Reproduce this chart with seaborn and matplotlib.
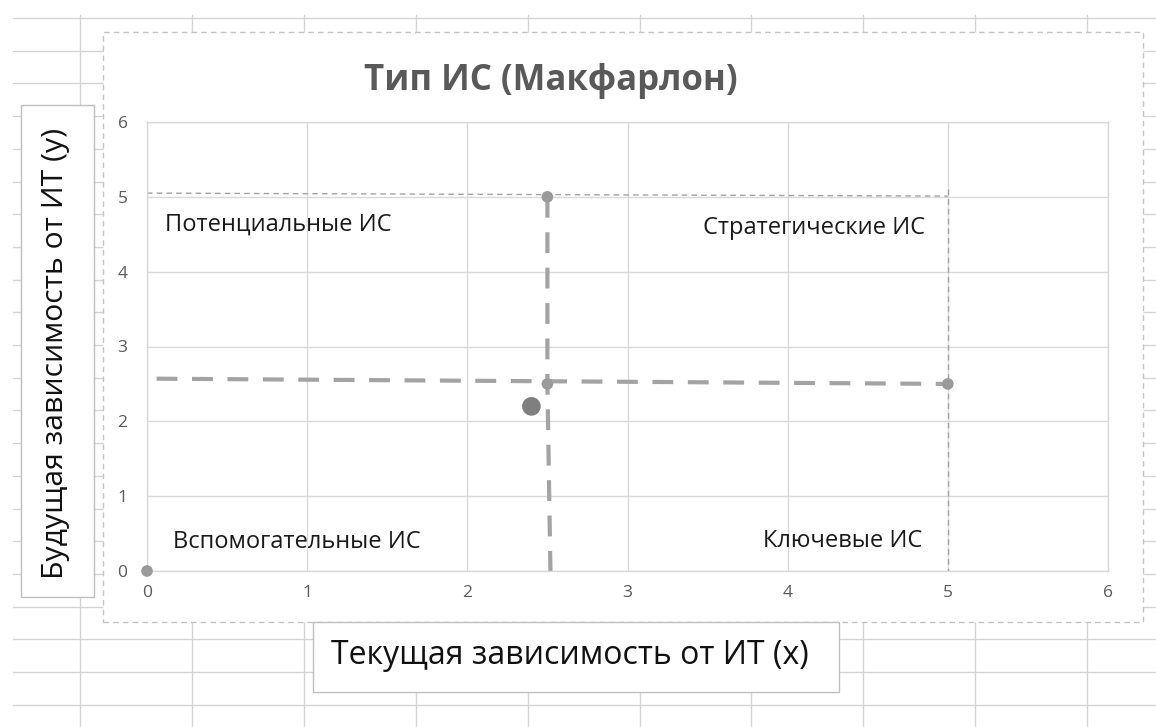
import matplotlib
matplotlib.use("Agg")
import matplotlib.pyplot as plt
from matplotlib.patches import Rectangle
from matplotlib.lines import Line2D
import seaborn as sns
import pandas as pd

W, H = 1156, 727

# данные (оценены по картинке)
title = "Тип ИС (Макфарлон)"
xlabel = "Текущая зависимость от ИТ (x)"
ylabel = "Будущая зависимость от ИТ (y)"
ticks = [0, 1, 2, 3, 4, 5, 6]

is_x = [2.4]          # оцениваемая ИС
is_y = [2.2]
origin_x = [0.0]
origin_y = [0.0]
vert_x = [2.5, 2.5, 2.52]     # вертикальная граница (пунктир)
vert_y = [5.0, 2.5, -0.15]
horiz_x = [0.06, 5.0]         # горизонтальная граница (пунктир)
horiz_y = [2.57, 2.5]
top_x = [0.0, 5.0]            # тонкие линии рамки
top_y = [5.05, 5.01]
right_x = [5.0, 5.0]
right_y = [5.1, 0.0]

quad_names = ["Потенциальные ИС", "Стратегические ИС", "Вспомогательные ИС", "Ключевые ИС"]
quad_x = [0.11, 4.86, 0.16, 4.84]
quad_y = [4.63, 4.59, 0.39, 0.40]
quad_ha = ["left", "right", "left", "right"]

sns.set_theme(style="whitegrid")
plt.rcParams['font.family'] = ['Open Sans', 'Noto Sans', 'DejaVu Sans']

fig = plt.figure(figsize=(W / 100, H / 100), dpi=100)
fig.patch.set_facecolor("white")


def fx(x):
    return x / W


def fy(y):
    return 1 - y / H


# сетка листа Excel на фоне
for k in range(22):
    y = 18 + 32.7 * k
    fig.add_artist(Line2D([fx(13), 1], [fy(y), fy(y)], color="#d4d4d4", lw=1, zorder=-3))
for k in range(10):
    x = 80 + 111.9 * k
    fig.add_artist(Line2D([fx(x), fx(x)], [fy(15), 0], color="#d4d4d4", lw=1, zorder=-3))

# область диаграммы
fig.add_artist(Rectangle((fx(103), fy(622)), fx(1143 - 103), (622 - 32) / H,
                         facecolor="white", edgecolor="#c4c4c4", lw=1,
                         linestyle=(0, (4, 3)), zorder=-2))

ax = fig.add_axes([fx(147), fy(571), fx(1108 - 147), (571 - 122) / H])
ax.set_zorder(0)
ax.set_facecolor("white")

grey = "#a3a3a3"
sns.lineplot(x=top_x, y=top_y, ax=ax, color=grey, lw=1, linestyle=(0, (4, 3)), sort=False, estimator=None)
sns.lineplot(x=right_x, y=right_y, ax=ax, color=grey, lw=1, linestyle=(0, (4, 3)), sort=False, estimator=None)
sns.lineplot(x=horiz_x, y=horiz_y, ax=ax, color=grey, lw=3, linestyle=(0, (5, 3.5)),
             sort=False, estimator=None)
sns.lineplot(x=vert_x, y=vert_y, ax=ax, color=grey, lw=3, linestyle=(0, (5, 3.5)),
             sort=False, estimator=None)
for ln in ax.lines:
    ln.set_clip_on(False)

pts = pd.DataFrame({"x": [vert_x[0], vert_x[1], horiz_x[1]] + origin_x,
                    "y": [vert_y[0], vert_y[1], horiz_y[1]] + origin_y})
sns.scatterplot(data=pts, x="x", y="y", ax=ax, color="#9a9a9a", s=70, edgecolor="none",
                clip_on=False, zorder=4)
sns.scatterplot(x=is_x, y=is_y, ax=ax, color="#7f7f7f", s=180, edgecolor="none",
                clip_on=False, zorder=5)

for name, x, y, ha in zip(quad_names, quad_x, quad_y, quad_ha):
    ax.text(x, y, name, ha=ha, va="center", fontsize=17, color="#1a1a1a")

ax.set_xlim(0, 6)
ax.set_ylim(0, 6)
ax.set_xticks(ticks)
ax.set_yticks(ticks)
ax.grid(True, color="#d9d9d9", lw=1)
for s in ax.spines.values():
    s.set_visible(True)
    s.set_color("#d9d9d9")
    s.set_linewidth(1)
ax.tick_params(axis="both", length=0, labelsize=12.5, labelcolor="#595959")
ax.tick_params(axis="y", pad=14)
ax.tick_params(axis="x", pad=10)
ax.set_xlabel("")
ax.set_ylabel("")

fig.text(fx(551), fy(90), title, ha="center", va="baseline", fontsize=25,
         fontweight="bold", color="#595959")

# подписи осей в рамках
fig.add_artist(Rectangle((fx(313), fy(692)), fx(839 - 313), (692 - 622) / H,
                         facecolor="white", edgecolor="#bfbfbf", lw=1, zorder=3))
fig.text(fx(570), fy(656), xlabel, ha="center", va="center", fontsize=23, color="#111111", zorder=4)
fig.add_artist(Rectangle((fx(21), fy(597)), fx(94 - 21), (597 - 105) / H,
                         facecolor="white", edgecolor="#bfbfbf", lw=1, zorder=3))
fig.text(fx(56), fy(353), ylabel, ha="center", va="center", rotation=90, fontsize=21.7,
         color="#111111", zorder=4)

fig.savefig("out.png", dpi=100)
